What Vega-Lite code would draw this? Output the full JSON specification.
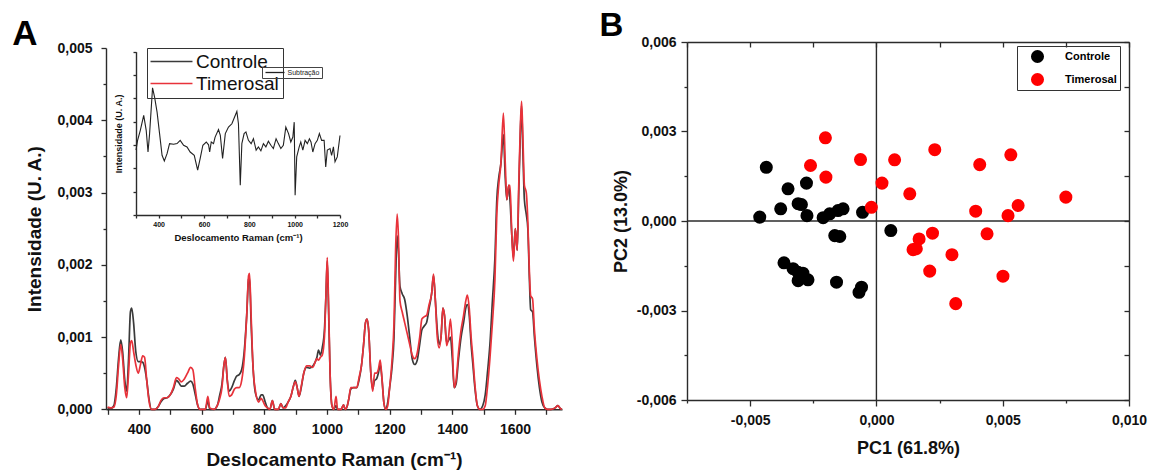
{
  "$schema": "https://vega.github.io/schema/vega-lite/v6.json",
  "width": 1149,
  "height": 472,
  "autosize": {"type": "none"},
  "padding": 0,
  "background": "white",
  "config": {
    "font": "Liberation Sans",
    "view": {"stroke": null},
    "axis": {
      "grid": false,
      "domainColor": "#2b2b2b",
      "domainWidth": 1.4,
      "tickColor": "#2b2b2b",
      "tickWidth": 1.3,
      "labelColor": "#111111",
      "titleColor": "#111111",
      "labelFont": "Liberation Sans",
      "titleFont": "Liberation Sans",
      "labelFontWeight": "bold",
      "titleFontWeight": "bold",
      "labelFlush": false,
      "labelOverlap": false,
      "labelBound": false
    }
  },
  "datasets": {
    "spectra": [
      {"shift":300,"Controle":0.00002,"Timerosal":0.00003},{"shift":310,"Controle":0.00001,"Timerosal":0.00002},{"shift":320,"Controle":0.00005,"Timerosal":0.00003},{"shift":328,"Controle":0.0003,"Timerosal":0.0002},{"shift":335,"Controle":0.0007,"Timerosal":0.0006},{"shift":342,"Controle":0.00096,"Timerosal":0.0009},{"shift":348,"Controle":0.0008,"Timerosal":0.0007},{"shift":355,"Controle":0.0004,"Timerosal":0.0003},{"shift":361,"Controle":0.00025,"Timerosal":0.00016},{"shift":367,"Controle":0.0007,"Timerosal":0.0005},{"shift":373,"Controle":0.00135,"Timerosal":0.00092},{"shift":377,"Controle":0.0014,"Timerosal":0.00095},{"shift":383,"Controle":0.0012,"Timerosal":0.0008},{"shift":390,"Controle":0.0008,"Timerosal":0.00062},{"shift":398,"Controle":0.00066,"Timerosal":0.0005},{"shift":405,"Controle":0.00066,"Timerosal":0.00062},{"shift":412,"Controle":0.00065,"Timerosal":0.00074},{"shift":418,"Controle":0.00058,"Timerosal":0.00072},{"shift":425,"Controle":0.0004,"Timerosal":0.0004},{"shift":432,"Controle":0.00015,"Timerosal":0.00012},{"shift":440,"Controle":0,"Timerosal":0},{"shift":452,"Controle":0,"Timerosal":0},{"shift":462,"Controle":0.00004,"Timerosal":0.00004},{"shift":470,"Controle":0.0001,"Timerosal":0.00012},{"shift":480,"Controle":0.00015,"Timerosal":0.00016},{"shift":490,"Controle":0.00016,"Timerosal":0.00016},{"shift":500,"Controle":0.0002,"Timerosal":0.0002},{"shift":510,"Controle":0.00028,"Timerosal":0.0003},{"shift":520,"Controle":0.0004,"Timerosal":0.00044},{"shift":527,"Controle":0.00037,"Timerosal":0.00042},{"shift":535,"Controle":0.00032,"Timerosal":0.00038},{"shift":545,"Controle":0.00032,"Timerosal":0.00042},{"shift":555,"Controle":0.00036,"Timerosal":0.0005},{"shift":565,"Controle":0.00039,"Timerosal":0.00058},{"shift":572,"Controle":0.00035,"Timerosal":0.00055},{"shift":580,"Controle":0.0002,"Timerosal":0.00028},{"shift":588,"Controle":0.00005,"Timerosal":0.00005},{"shift":595,"Controle":0,"Timerosal":0},{"shift":612,"Controle":0,"Timerosal":0},{"shift":620,"Controle":0.00012,"Timerosal":0.00018},{"shift":626,"Controle":0,"Timerosal":0.00002},{"shift":640,"Controle":0,"Timerosal":0},{"shift":650,"Controle":0.00005,"Timerosal":0.00005},{"shift":658,"Controle":0.0002,"Timerosal":0.00015},{"shift":665,"Controle":0.00035,"Timerosal":0.0003},{"shift":671,"Controle":0.0006,"Timerosal":0.0006},{"shift":676,"Controle":0.00072,"Timerosal":0.00072},{"shift":682,"Controle":0.0004,"Timerosal":0.0004},{"shift":688,"Controle":0.00025,"Timerosal":0.00018},{"shift":696,"Controle":0.0003,"Timerosal":0.0002},{"shift":705,"Controle":0.0004,"Timerosal":0.00028},{"shift":712,"Controle":0.00046,"Timerosal":0.0003},{"shift":720,"Controle":0.00048,"Timerosal":0.0003},{"shift":728,"Controle":0.00055,"Timerosal":0.0004},{"shift":736,"Controle":0.0008,"Timerosal":0.0007},{"shift":744,"Controle":0.0013,"Timerosal":0.0013},{"shift":750,"Controle":0.0018,"Timerosal":0.00185},{"shift":753,"Controle":0.00182,"Timerosal":0.00188},{"shift":758,"Controle":0.0012,"Timerosal":0.0013},{"shift":764,"Controle":0.0006,"Timerosal":0.0006},{"shift":772,"Controle":0.00022,"Timerosal":0.00025},{"shift":782,"Controle":0.00013,"Timerosal":0.0001},{"shift":790,"Controle":0.0002,"Timerosal":0.00015},{"shift":795,"Controle":0.0002,"Timerosal":0.00012},{"shift":803,"Controle":0.0001,"Timerosal":0.00005},{"shift":810,"Controle":0.00002,"Timerosal":0.00002},{"shift":818,"Controle":0,"Timerosal":0},{"shift":826,"Controle":0.00012,"Timerosal":0.00012},{"shift":833,"Controle":0,"Timerosal":0},{"shift":845,"Controle":0,"Timerosal":0},{"shift":853,"Controle":0.00008,"Timerosal":0.00008},{"shift":860,"Controle":0.00002,"Timerosal":0.00002},{"shift":868,"Controle":0.00005,"Timerosal":0.00002},{"shift":876,"Controle":0.0001,"Timerosal":0.0001},{"shift":885,"Controle":0.00018,"Timerosal":0.00018},{"shift":893,"Controle":0.00032,"Timerosal":0.00032},{"shift":899,"Controle":0.0004,"Timerosal":0.00038},{"shift":905,"Controle":0.0003,"Timerosal":0.0003},{"shift":911,"Controle":0.00018,"Timerosal":0.00018},{"shift":918,"Controle":0.0003,"Timerosal":0.00032},{"shift":926,"Controle":0.0005,"Timerosal":0.0005},{"shift":935,"Controle":0.00058,"Timerosal":0.0006},{"shift":945,"Controle":0.00057,"Timerosal":0.0006},{"shift":955,"Controle":0.0006,"Timerosal":0.00058},{"shift":962,"Controle":0.00065,"Timerosal":0.00065},{"shift":968,"Controle":0.00072,"Timerosal":0.0007},{"shift":973,"Controle":0.00082,"Timerosal":0.00068},{"shift":979,"Controle":0.00075,"Timerosal":0.00072},{"shift":985,"Controle":0.00085,"Timerosal":0.00075},{"shift":992,"Controle":0.0011,"Timerosal":0.001},{"shift":997,"Controle":0.0016,"Timerosal":0.0016},{"shift":1001,"Controle":0.00205,"Timerosal":0.0021},{"shift":1005,"Controle":0.0014,"Timerosal":0.0015},{"shift":1010,"Controle":0.0005,"Timerosal":0.0005},{"shift":1016,"Controle":0.00005,"Timerosal":0.00005},{"shift":1022,"Controle":0,"Timerosal":0},{"shift":1029,"Controle":0.00005,"Timerosal":0.00018},{"shift":1034,"Controle":0,"Timerosal":0},{"shift":1045,"Controle":0,"Timerosal":0},{"shift":1053,"Controle":0.00006,"Timerosal":0.00006},{"shift":1058,"Controle":0,"Timerosal":0},{"shift":1065,"Controle":0.00005,"Timerosal":0.00005},{"shift":1070,"Controle":0.00015,"Timerosal":0.00015},{"shift":1076,"Controle":0.00028,"Timerosal":0.0003},{"shift":1085,"Controle":0.0003,"Timerosal":0.0003},{"shift":1095,"Controle":0.0003,"Timerosal":0.0003},{"shift":1103,"Controle":0.00042,"Timerosal":0.00045},{"shift":1110,"Controle":0.0006,"Timerosal":0.0006},{"shift":1117,"Controle":0.0009,"Timerosal":0.0009},{"shift":1123,"Controle":0.0012,"Timerosal":0.0012},{"shift":1128,"Controle":0.00125,"Timerosal":0.00125},{"shift":1133,"Controle":0.0011,"Timerosal":0.0011},{"shift":1140,"Controle":0.0005,"Timerosal":0.0005},{"shift":1146,"Controle":0.00028,"Timerosal":0.00025},{"shift":1152,"Controle":0.0004,"Timerosal":0.0005},{"shift":1158,"Controle":0.00042,"Timerosal":0.0005},{"shift":1164,"Controle":0.0005,"Timerosal":0.00055},{"shift":1170,"Controle":0.00062,"Timerosal":0.00068},{"shift":1176,"Controle":0.0004,"Timerosal":0.0004},{"shift":1182,"Controle":0.00008,"Timerosal":0.00008},{"shift":1188,"Controle":0,"Timerosal":0},{"shift":1194,"Controle":0.0001,"Timerosal":0.00005},{"shift":1200,"Controle":0.0003,"Timerosal":0.0003},{"shift":1208,"Controle":0.0006,"Timerosal":0.0007},{"shift":1214,"Controle":0.001,"Timerosal":0.0012},{"shift":1219,"Controle":0.0018,"Timerosal":0.0022},{"shift":1224,"Controle":0.0024,"Timerosal":0.0027},{"shift":1228,"Controle":0.0022,"Timerosal":0.0024},{"shift":1233,"Controle":0.0017,"Timerosal":0.0015},{"shift":1240,"Controle":0.0016,"Timerosal":0.00135},{"shift":1248,"Controle":0.00152,"Timerosal":0.0012},{"shift":1256,"Controle":0.0013,"Timerosal":0.00105},{"shift":1264,"Controle":0.001,"Timerosal":0.0009},{"shift":1272,"Controle":0.0007,"Timerosal":0.00075},{"shift":1280,"Controle":0.00062,"Timerosal":0.0007},{"shift":1288,"Controle":0.00068,"Timerosal":0.00078},{"shift":1296,"Controle":0.0009,"Timerosal":0.001},{"shift":1303,"Controle":0.0011,"Timerosal":0.00125},{"shift":1310,"Controle":0.00115,"Timerosal":0.00128},{"shift":1318,"Controle":0.0012,"Timerosal":0.0013},{"shift":1326,"Controle":0.0014,"Timerosal":0.00145},{"shift":1334,"Controle":0.0016,"Timerosal":0.0016},{"shift":1340,"Controle":0.00185,"Timerosal":0.00187},{"shift":1346,"Controle":0.0015,"Timerosal":0.0015},{"shift":1352,"Controle":0.0011,"Timerosal":0.001},{"shift":1358,"Controle":0.0009,"Timerosal":0.00085},{"shift":1364,"Controle":0.001,"Timerosal":0.001},{"shift":1370,"Controle":0.0014,"Timerosal":0.0014},{"shift":1375,"Controle":0.0013,"Timerosal":0.0013},{"shift":1382,"Controle":0.00092,"Timerosal":0.00088},{"shift":1388,"Controle":0.00095,"Timerosal":0.001},{"shift":1394,"Controle":0.001,"Timerosal":0.00125},{"shift":1400,"Controle":0.0007,"Timerosal":0.0009},{"shift":1406,"Controle":0.0003,"Timerosal":0.0003},{"shift":1412,"Controle":0.00035,"Timerosal":0.0004},{"shift":1420,"Controle":0.0007,"Timerosal":0.0008},{"shift":1428,"Controle":0.001,"Timerosal":0.0011},{"shift":1436,"Controle":0.0012,"Timerosal":0.0013},{"shift":1443,"Controle":0.0014,"Timerosal":0.0015},{"shift":1448,"Controle":0.00145,"Timerosal":0.00158},{"shift":1454,"Controle":0.0013,"Timerosal":0.0014},{"shift":1460,"Controle":0.0009,"Timerosal":0.001},{"shift":1466,"Controle":0.0006,"Timerosal":0.0007},{"shift":1472,"Controle":0.0003,"Timerosal":0.00035},{"shift":1480,"Controle":0.00005,"Timerosal":0.00005},{"shift":1488,"Controle":0,"Timerosal":0},{"shift":1497,"Controle":0.00005,"Timerosal":0},{"shift":1505,"Controle":0.0002,"Timerosal":0.00005},{"shift":1512,"Controle":0.0005,"Timerosal":0.0003},{"shift":1520,"Controle":0.0009,"Timerosal":0.0007},{"shift":1528,"Controle":0.0015,"Timerosal":0.0012},{"shift":1536,"Controle":0.0021,"Timerosal":0.0018},{"shift":1542,"Controle":0.0029,"Timerosal":0.0027},{"shift":1548,"Controle":0.0032,"Timerosal":0.0031},{"shift":1555,"Controle":0.0034,"Timerosal":0.0034},{"shift":1563,"Controle":0.0038,"Timerosal":0.0041},{"shift":1569,"Controle":0.0032,"Timerosal":0.0034},{"shift":1574,"Controle":0.0029,"Timerosal":0.0029},{"shift":1580,"Controle":0.0031,"Timerosal":0.0031},{"shift":1584,"Controle":0.0029,"Timerosal":0.0031},{"shift":1590,"Controle":0.0024,"Timerosal":0.0024},{"shift":1595,"Controle":0.0021,"Timerosal":0.00205},{"shift":1601,"Controle":0.0025,"Timerosal":0.0025},{"shift":1607,"Controle":0.0022,"Timerosal":0.0022},{"shift":1612,"Controle":0.003,"Timerosal":0.0031},{"shift":1617,"Controle":0.0038,"Timerosal":0.0039},{"shift":1621,"Controle":0.0042,"Timerosal":0.00426},{"shift":1625,"Controle":0.0036,"Timerosal":0.0038},{"shift":1630,"Controle":0.0029,"Timerosal":0.0031},{"shift":1636,"Controle":0.0027,"Timerosal":0.003},{"shift":1641,"Controle":0.0025,"Timerosal":0.0026},{"shift":1646,"Controle":0.0018,"Timerosal":0.0019},{"shift":1650,"Controle":0.00138,"Timerosal":0.00157},{"shift":1656,"Controle":0.00135,"Timerosal":0.00153},{"shift":1662,"Controle":0.001,"Timerosal":0.0011},{"shift":1670,"Controle":0.0006,"Timerosal":0.0007},{"shift":1678,"Controle":0.0003,"Timerosal":0.0004},{"shift":1686,"Controle":0.0001,"Timerosal":0.00018},{"shift":1695,"Controle":0.00002,"Timerosal":0.00002},{"shift":1703,"Controle":0,"Timerosal":0},{"shift":1715,"Controle":0,"Timerosal":0},{"shift":1728,"Controle":0.00002,"Timerosal":0.00002},{"shift":1737,"Controle":0.00005,"Timerosal":0.00005},{"shift":1745,"Controle":0.00001,"Timerosal":0.00001},{"shift":1750,"Controle":0,"Timerosal":0}
    ],
    "inset": [
      {"shift":300,"sub":-0.22},{"shift":307,"sub":0.2},{"shift":319,"sub":0.63},{"shift":334,"sub":1.27},{"shift":345,"sub":0.63},{"shift":353,"sub":-0.3},{"shift":360,"sub":0.49},{"shift":373,"sub":2.45},{"shift":382,"sub":2.05},{"shift":393,"sub":1.41},{"shift":404,"sub":0.49},{"shift":415,"sub":-0.44},{"shift":425,"sub":-0.68},{"shift":437,"sub":-0.37},{"shift":448,"sub":0.06},{"shift":466,"sub":0.03},{"shift":481,"sub":0.06},{"shift":495,"sub":0.2},{"shift":510,"sub":-0.01},{"shift":525,"sub":-0.08},{"shift":539,"sub":-0.3},{"shift":557,"sub":-0.44},{"shift":572,"sub":-1.08},{"shift":583,"sub":-0.58},{"shift":595,"sub":-0.01},{"shift":610,"sub":0.13},{"shift":620,"sub":0.01},{"shift":625,"sub":-0.3},{"shift":632,"sub":0.13},{"shift":642,"sub":0.06},{"shift":649,"sub":0.34},{"shift":664,"sub":0.66},{"shift":672,"sub":0.41},{"shift":682,"sub":-0.58},{"shift":694,"sub":0.49},{"shift":708,"sub":0.77},{"shift":723,"sub":0.91},{"shift":735,"sub":1.2},{"shift":745,"sub":1.44},{"shift":752,"sub":0.91},{"shift":760,"sub":-1.72},{"shift":767,"sub":0.06},{"shift":777,"sub":0.49},{"shift":785,"sub":0.56},{"shift":796,"sub":0.2},{"shift":808,"sub":0.06},{"shift":818,"sub":0.27},{"shift":830,"sub":-0.22},{"shift":840,"sub":-0.08},{"shift":851,"sub":-0.25},{"shift":862,"sub":0.06},{"shift":873,"sub":-0.08},{"shift":884,"sub":0.16},{"shift":895,"sub":-0.01},{"shift":906,"sub":-0.15},{"shift":918,"sub":0.27},{"shift":928,"sub":0.06},{"shift":939,"sub":-0.15},{"shift":950,"sub":-0.01},{"shift":961,"sub":0.77},{"shift":973,"sub":0.49},{"shift":983,"sub":0.13},{"shift":992,"sub":0.34},{"shift":998,"sub":0.98},{"shift":1002,"sub":-2.15},{"shift":1009,"sub":-0.51},{"shift":1020,"sub":-0.08},{"shift":1027,"sub":0.13},{"shift":1036,"sub":-0.22},{"shift":1046,"sub":0.2},{"shift":1056,"sub":0.06},{"shift":1065,"sub":0.27},{"shift":1072,"sub":0.13},{"shift":1080,"sub":-0.3},{"shift":1090,"sub":0.06},{"shift":1100,"sub":0.2},{"shift":1109,"sub":0.49},{"shift":1119,"sub":0.2},{"shift":1130,"sub":0.2},{"shift":1137,"sub":-0.94},{"shift":1144,"sub":-0.22},{"shift":1156,"sub":-0.15},{"shift":1163,"sub":-0.44},{"shift":1171,"sub":-0.08},{"shift":1178,"sub":-0.72},{"shift":1188,"sub":-0.51},{"shift":1200,"sub":0.41}
    ],
    "pca": [
      {"pc1":-0.00462,"pc2":0.00013,"grupo":"Controle"},{"pc1":-0.00436,"pc2":0.0018,"grupo":"Controle"},{"pc1":-0.00379,"pc2":0.00041,"grupo":"Controle"},{"pc1":-0.0035,"pc2":0.00108,"grupo":"Controle"},{"pc1":-0.0031,"pc2":0.00058,"grupo":"Controle"},{"pc1":-0.00297,"pc2":0.00055,"grupo":"Controle"},{"pc1":-0.00277,"pc2":0.00127,"grupo":"Controle"},{"pc1":-0.00275,"pc2":0.00018,"grupo":"Controle"},{"pc1":-0.00211,"pc2":0.00011,"grupo":"Controle"},{"pc1":-0.00185,"pc2":0.00024,"grupo":"Controle"},{"pc1":-0.00152,"pc2":0.00035,"grupo":"Controle"},{"pc1":-0.00132,"pc2":0.00041,"grupo":"Controle"},{"pc1":-0.00055,"pc2":0.00029,"grupo":"Controle"},{"pc1":-0.00165,"pc2":-0.00049,"grupo":"Controle"},{"pc1":-0.00145,"pc2":-0.00052,"grupo":"Controle"},{"pc1":0.00057,"pc2":-0.00032,"grupo":"Controle"},{"pc1":-0.00366,"pc2":-0.0014,"grupo":"Controle"},{"pc1":-0.0033,"pc2":-0.0016,"grupo":"Controle"},{"pc1":-0.0031,"pc2":-0.00172,"grupo":"Controle"},{"pc1":-0.00291,"pc2":-0.00175,"grupo":"Controle"},{"pc1":-0.0031,"pc2":-0.002,"grupo":"Controle"},{"pc1":-0.00271,"pc2":-0.00197,"grupo":"Controle"},{"pc1":-0.00158,"pc2":-0.00205,"grupo":"Controle"},{"pc1":-0.00059,"pc2":-0.00222,"grupo":"Controle"},{"pc1":-0.00069,"pc2":-0.00239,"grupo":"Controle"},
      {"pc1":-0.00202,"pc2":0.00279,"grupo":"Timerosal"},{"pc1":-0.00261,"pc2":0.00186,"grupo":"Timerosal"},{"pc1":-0.002,"pc2":0.00147,"grupo":"Timerosal"},{"pc1":-0.00063,"pc2":0.00206,"grupo":"Timerosal"},{"pc1":-0.0002,"pc2":0.00046,"grupo":"Timerosal"},{"pc1":0.00022,"pc2":0.00127,"grupo":"Timerosal"},{"pc1":0.00072,"pc2":0.00205,"grupo":"Timerosal"},{"pc1":0.00132,"pc2":0.00091,"grupo":"Timerosal"},{"pc1":0.00231,"pc2":0.00239,"grupo":"Timerosal"},{"pc1":0.00409,"pc2":0.00189,"grupo":"Timerosal"},{"pc1":0.00532,"pc2":0.00222,"grupo":"Timerosal"},{"pc1":0.00393,"pc2":0.00033,"grupo":"Timerosal"},{"pc1":0.00521,"pc2":0.00018,"grupo":"Timerosal"},{"pc1":0.00561,"pc2":0.00052,"grupo":"Timerosal"},{"pc1":0.0075,"pc2":0.0008,"grupo":"Timerosal"},{"pc1":0.00169,"pc2":-0.0006,"grupo":"Timerosal"},{"pc1":0.00145,"pc2":-0.00096,"grupo":"Timerosal"},{"pc1":0.00158,"pc2":-0.00093,"grupo":"Timerosal"},{"pc1":0.00222,"pc2":-0.00041,"grupo":"Timerosal"},{"pc1":0.00438,"pc2":-0.00043,"grupo":"Timerosal"},{"pc1":0.00299,"pc2":-0.00113,"grupo":"Timerosal"},{"pc1":0.00211,"pc2":-0.00168,"grupo":"Timerosal"},{"pc1":0.00501,"pc2":-0.00185,"grupo":"Timerosal"},{"pc1":0.00314,"pc2":-0.00277,"grupo":"Timerosal"}
    ]
  },
  "layer": [
    {
      "data": {"name": "spectra"},
      "transform": [{"fold": ["Controle", "Timerosal"], "as": ["serie", "intensity"]}],
      "mark": {"type": "line", "strokeWidth": 1.7, "interpolate": "monotone"},
      "encoding": {
        "x": {"field": "shift", "type": "quantitative",
          "scale": {"domain": [295, 1750], "range": [106, 562], "nice": false, "zero": false},
          "axis": {"orient": "bottom", "offset": -62.7,
            "values": [300,400,500,600,700,800,900,1000,1100,1200,1300,1400,1500,1600,1700],
            "labelExpr": "datum.value % 200 === 0 ? format(datum.value, 'd') : ''",
            "tickSize": 5, "labelFontSize": 14, "labelPadding": 8,
            "title": "Deslocamento Raman (cm⁻¹)", "titleFontSize": 19, "titlePadding": 14}},
        "y": {"field": "intensity", "type": "quantitative",
          "scale": {"domain": [0, 0.005], "range": [409.3, 48], "nice": false, "zero": false},
          "axis": {"orient": "left", "offset": -106,
            "values": [0,0.0005,0.001,0.0015,0.002,0.0025,0.003,0.0035,0.004,0.0045,0.005],
            "labelExpr": "round(datum.value*10000) % 10 === 0 ? replace(format(datum.value, '.3f'), '.', ',') : ''",
            "tickSize": {"condition": {"test": "round(datum.value*10000) % 10 === 0", "value": 5}, "value": 3},
            "labelFontSize": 14, "labelPadding": 9,
            "title": "Intensidade (U. A.)", "titleFontSize": 19, "titlePadding": 12}},
        "color": {"field": "serie", "type": "nominal",
          "scale": {"domain": ["Controle", "Timerosal"], "range": ["#3a3a3a", "#e8323a"]},
          "legend": {"orient": "none", "legendX": 147, "legendY": 48, "title": null,
            "strokeColor": "#333333", "padding": 4, "symbolType": "M-4,0L4,0", "symbolSize": 110,
            "symbolStrokeWidth": 1.5, "symbolOffset": 11, "labelOffset": 15, "labelFontSize": 19,
            "labelFontWeight": "normal", "labelColor": "#111111", "rowPadding": 2}}
      }
    },
    {
      "data": {"values": [{"t": "A"}]},
      "mark": {"type": "text", "fontSize": 35, "fontWeight": "bold", "align": "center", "baseline": "alphabetic", "color": "#000000"},
      "encoding": {
        "text": {"field": "t"},
        "x": {"datum": 36.5, "type": "quantitative", "scale": {"domain": [295, 1750], "range": [106, 562], "nice": false, "zero": false}, "axis": null},
        "y": {"datum": 0.00504, "type": "quantitative", "scale": {"domain": [0, 0.005], "range": [409.3, 48], "nice": false, "zero": false}, "axis": null}
      }
    },
    {
      "data": {"name": "inset"},
      "mark": {"type": "line", "strokeWidth": 1.1},
      "encoding": {
        "x": {"field": "shift", "type": "quantitative",
          "scale": {"domain": [300, 1200], "range": [136, 340], "nice": false, "zero": false},
          "axis": {"orient": "bottom", "offset": -257,
            "values": [300,400,500,600,700,800,900,1000,1100,1200],
            "labelExpr": "datum.value % 200 === 0 ? format(datum.value, 'd') : ''",
            "tickSize": 3, "labelFontSize": 7, "labelPadding": 2,
            "title": "Deslocamento Raman (cm⁻¹)", "titleFontSize": 9.5, "titlePadding": 5}},
        "y": {"field": "sub", "type": "quantitative",
          "scale": {"domain": [-3, 4], "range": [215, 51.7], "nice": false, "zero": false},
          "axis": {"orient": "left", "offset": -136, "values": [-3,-2,-1,0,1,2,3,4],
            "labels": false, "tickSize": 3,
            "title": "Intensidade (U. A.)", "titleFontSize": 9, "titlePadding": 9}},
        "color": {"datum": "Subtração", "type": "nominal",
          "scale": {"range": ["#222222"]},
          "legend": {"orient": "none", "legendX": 262, "legendY": 67, "title": null,
            "strokeColor": "#444444", "padding": 2, "symbolType": "M-4.75,0L4.75,0", "symbolSize": 16,
            "symbolStrokeWidth": 1.3, "symbolOffset": 7.5, "labelOffset": 9, "labelFontSize": 7,
            "labelFontWeight": "normal", "labelColor": "#222222", "rowPadding": 0}}
      }
    },
    {
      "data": {"values": [{}]},
      "mark": {"type": "rule", "color": "#2b2b2b", "strokeWidth": 1.4},
      "encoding": {
        "x": {"datum": 0, "type": "quantitative",
          "scale": {"domain": [-0.0075, 0.01], "range": [687, 1129], "nice": false, "zero": false},
          "axis": {"orient": "top", "offset": -42, "values": [-0.0075,-0.005,-0.0025,0,0.0025,0.005,0.0075,0.01],
            "labels": false, "tickSize": -5, "title": null}},
        "y": {"datum": -0.006, "type": "quantitative",
          "scale": {"domain": [-0.006, 0.006], "range": [400, 42], "nice": false, "zero": false},
          "axis": {"orient": "right", "offset": -20, "values": [-0.006,-0.0045,-0.003,-0.0015,0,0.0015,0.003,0.0045,0.006],
            "labels": false, "tickSize": -5, "title": null}},
        "y2": {"datum": 0.006}
      }
    },
    {
      "data": {"values": [{}]},
      "mark": {"type": "rule", "color": "#2b2b2b", "strokeWidth": 1.4},
      "encoding": {
        "x": {"datum": -0.0075, "type": "quantitative",
          "scale": {"domain": [-0.0075, 0.01], "range": [687, 1129], "nice": false, "zero": false}, "axis": null},
        "x2": {"datum": 0.01},
        "y": {"datum": 0, "type": "quantitative",
          "scale": {"domain": [-0.006, 0.006], "range": [400, 42], "nice": false, "zero": false}, "axis": null}
      }
    },
    {
      "data": {"name": "pca"},
      "mark": {"type": "circle", "size": 170, "opacity": 1},
      "encoding": {
        "x": {"field": "pc1", "type": "quantitative",
          "scale": {"domain": [-0.0075, 0.01], "range": [687, 1129], "nice": false, "zero": false},
          "axis": {"orient": "bottom", "offset": -72,
            "values": [-0.0075,-0.005,-0.0025,0,0.0025,0.005,0.0075,0.01],
            "labelExpr": "abs(round(datum.value*10000)) % 50 === 0 ? replace(replace(format(datum.value, '.3f'), '.', ','), '\u2212', '-') : ''",
            "tickSize": {"condition": {"test": "abs(round(datum.value*10000)) % 50 === 0", "value": 6}, "value": 3},
            "labelFontSize": 14, "labelPadding": 7,
            "title": "PC1 (61.8%)", "titleFontSize": 18, "titlePadding": 12}},
        "y": {"field": "pc2", "type": "quantitative",
          "scale": {"domain": [-0.006, 0.006], "range": [400, 42], "nice": false, "zero": false},
          "axis": {"orient": "left", "offset": -687,
            "values": [-0.006,-0.0045,-0.003,-0.0015,0,0.0015,0.003,0.0045,0.006],
            "labelExpr": "abs(round(datum.value*10000)) % 30 === 0 ? replace(replace(format(datum.value, '.3f'), '.', ','), '\u2212', '-') : ''",
            "tickSize": {"condition": {"test": "abs(round(datum.value*10000)) % 30 === 0", "value": 6}, "value": 3},
            "labelFontSize": 14, "labelPadding": 5,
            "title": "PC2 (13.0%)", "titleFontSize": 18, "titlePadding": 6}},
        "color": {"field": "grupo", "type": "nominal",
          "scale": {"domain": ["Controle", "Timerosal"], "range": ["#000000", "#ff0000"]},
          "legend": {"orient": "none", "legendX": 1017, "legendY": 46, "title": null,
            "strokeColor": "#333333", "padding": 3, "symbolType": "circle", "symbolSize": 170,
            "symbolOffset": 10, "labelOffset": 20, "labelFontSize": 11, "labelFontWeight": "bold",
            "rowPadding": 8,
            "encode": {"labels": {"update": {"fill": {"signal": "datum.value === 'Timerosal' ? '#ff0000' : '#222222'"}}}}}}
      }
    },
    {
      "data": {"values": [{"t": "B"}]},
      "mark": {"type": "text", "fontSize": 33, "fontWeight": "bold", "align": "center", "baseline": "alphabetic", "color": "#000000"},
      "encoding": {
        "text": {"field": "t"},
        "x": {"datum": -0.01049, "type": "quantitative", "scale": {"domain": [-0.0075, 0.01], "range": [687, 1129], "nice": false, "zero": false}, "axis": null},
        "y": {"datum": 0.00621, "type": "quantitative", "scale": {"domain": [-0.006, 0.006], "range": [400, 42], "nice": false, "zero": false}, "axis": null}
      }
    }
  ],
  "resolve": {"scale": {"x": "independent", "y": "independent", "color": "independent"}}
}
